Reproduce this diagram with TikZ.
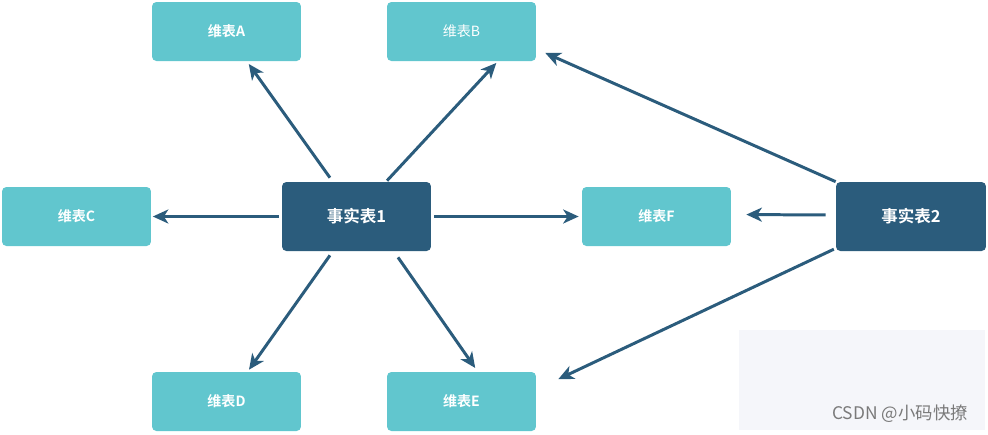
\documentclass[tikz,border=0pt]{standalone}
\usepackage{fontspec}
\setmainfont{Liberation Sans}
\newfontfamily\cjkb{Noto Sans CJK SC Bold}
\newfontfamily\cjk{Noto Sans CJK SC}
\usetikzlibrary{arrows.meta,positioning,calc}
\definecolor{dimteal}{HTML}{61C6CE}
\definecolor{factblue}{HTML}{2B5C7C}
\definecolor{markbg}{HTML}{F5F6FA}
\tikzset{
  dimblk/.style ={rectangle, rounded corners=2.5pt, fill=dimteal,
                  minimum width=2.98cm, minimum height=1.18cm,
                  align=center, text=white, font=\cjkb\fontsize{8}{9}\selectfont},
  factblk/.style={rectangle, rounded corners=2.5pt, fill=factblue,
                  minimum width=2.98cm, minimum height=1.38cm,
                  align=center, text=white, font=\cjkb\fontsize{9.4}{11}\selectfont},
  ar/.style     ={-{Stealth[length=0.31cm, width=0.28cm, inset=0.09cm]},
                  line width=1.7pt, draw=factblue}
}

\begin{document}
\begin{tikzpicture}[x=0.02cm, y=-0.02cm]
\useasboundingbox (0,0) rectangle (988,434);
% fact tables
\node[factblk] (f1) at (356.5,216.5) {事实表1};
\node[factblk, minimum width=3.0cm] (f2) at (911,216.5) {事实表2};
% dimension tables
\node[dimblk] (dA) at (226.5,31.5) {维表A};
\node[dimblk, font=\cjk\fontsize{8}{9}\selectfont] (dB) at (461.5,31.5) {维表B};
\node[dimblk] (dC) at (76.5,216.5) {维表C};
\node[dimblk] (dF) at (656.5,216.5) {维表F};
\node[dimblk] (dD) at (226.5,401.5) {维表D};
\node[dimblk] (dE) at (461.5,401.5) {维表E};
% watermark
\fill[markbg] (739,330) rectangle (985,430);
\node[text=black!52, font=\cjk\fontsize{9.9}{11}\selectfont, anchor=east] (wm) at (974,414) {CSDN @小码快撩};
% connectors of fact 1
\draw[ar, shorten <=4.9*0.02cm, shorten >=3.2*0.02cm]
  ($(f1.north)+(-23.7,0)$) -- ($(dA.south)+(20.4,0)$);
\draw[ar, shorten <=1.4*0.02cm, shorten >=2.2*0.02cm]
  ($(f1.north)+(29.6,0)$) -- ($(dB.south)+(36.3,0)$);
\draw[ar, shorten <=3*0.02cm, shorten >=1.5*0.02cm] (f1.west) -- (dC.east);
\draw[ar, shorten <=3*0.02cm, shorten >=3*0.02cm] (f1.east) -- (dF.west);
\draw[ar, shorten <=4.9*0.02cm, shorten >=2.4*0.02cm]
  ($(f1.south)+(-23.7,0)$) -- ($(dD.north)+(21.1,0)$);
\draw[ar, shorten <=7.3*0.02cm, shorten >=4.5*0.02cm]
  ($(f1.south)+(37.3,0)$) -- ($(dE.north)+(16.3,0)$);
% connectors of fact 2
\draw[ar, shorten >=9.8*0.02cm] (f2.north west) -- ($(dB.east)+(0,17.5)$);
\draw[ar, shorten <=10*0.02cm, shorten >=15*0.02cm]
  ($(f2.west)+(0,-1.5)$) -- ($(dF.east)+(0,-2)$);
\draw[ar, shorten <=2*0.02cm, shorten >=24.3*0.02cm]
  ($(f2.south west)+(0,-3)$) -- ($(dE.east)+(0,-12)$);
\end{tikzpicture}
\end{document}
